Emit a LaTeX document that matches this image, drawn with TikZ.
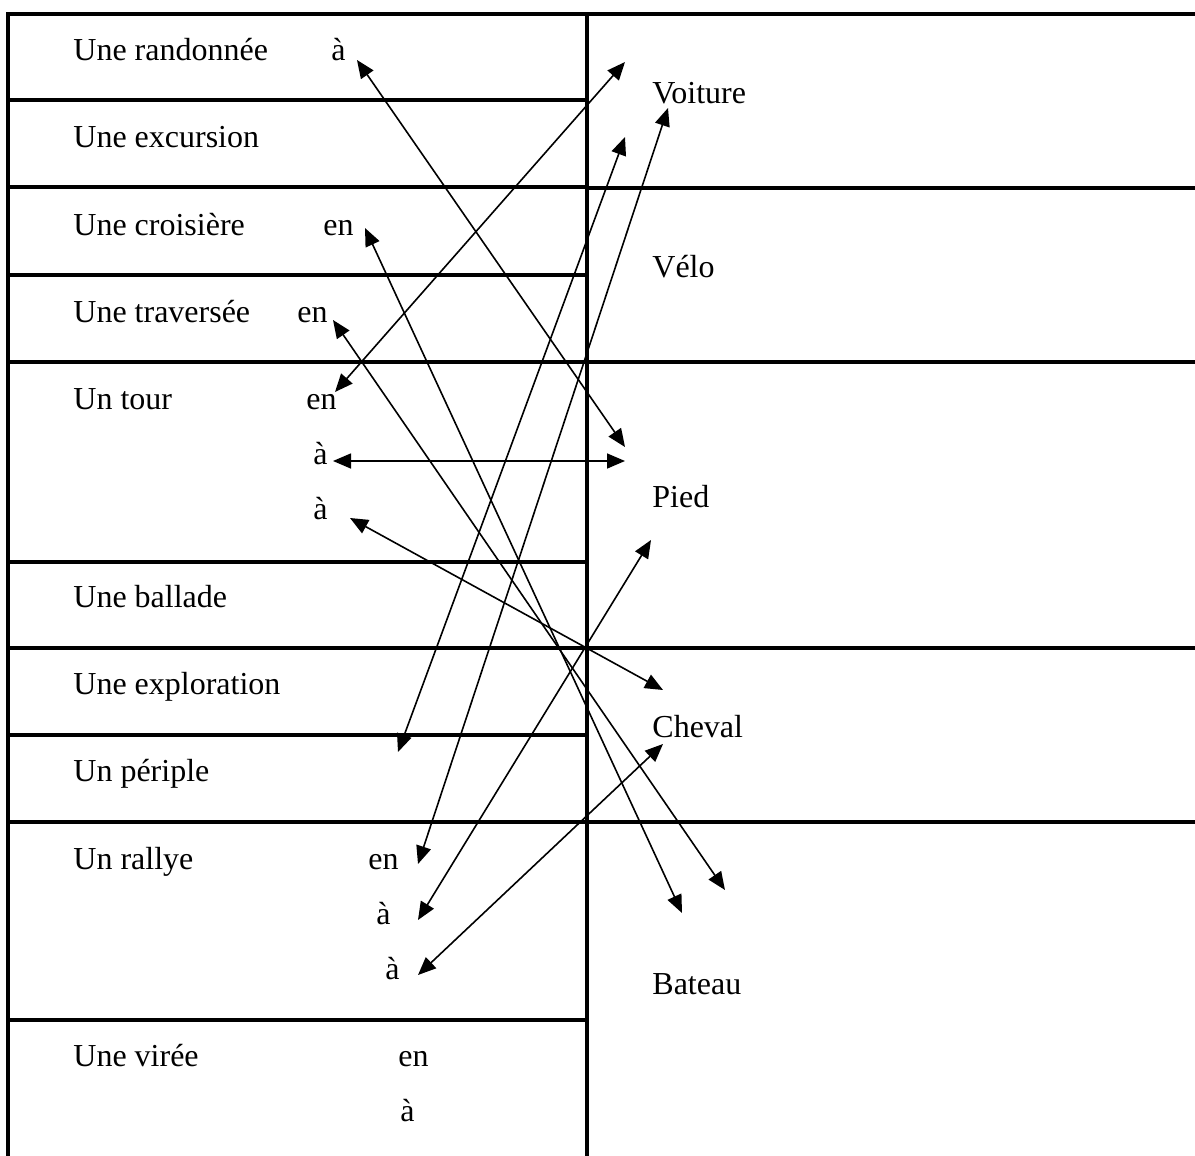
\documentclass[tikz,border=0pt]{standalone}
\usepackage{fontspec}
\setmainfont{Liberation Serif}
\usetikzlibrary{arrows.meta}

\begin{document}
\begin{tikzpicture}[x = 0.5pt, y = -0.5pt,
		every node/.style = {inner sep = 0, anchor = base west, font = \fontsize{16}{19}\selectfont},
		link/.style = {{Triangle[length = 9pt, width = 7.5pt]}-{Triangle[length = 9pt, width = 7.5pt]}, line width = 0.8pt}]
		\def\midLine{587}
		\useasboundingbox (0,0) rectangle (1195,1156);

		% table lines
		\begin{scope}[line width = 1.9pt]
			\draw (8,1156) -- (8,14) -- (1195,14);
			\draw (\midLine,14) -- (\midLine,1156);
			\foreach \y in {100, 187, 275, 362, 562, 648, 735, 822, 1020}
				\draw (8,\y) -- (\midLine,\y);
			\foreach \y in {188, 362, 648, 822}
				\draw (\midLine,\y) -- (1195,\y);
		\end{scope}

		% left column
		\node (randonnee) at (73,61) {Une randonnée};
		\node (excursion) at (73,148) {Une excursion};
		\node (croisiere) at (73,235) {Une croisière};
		\node (traversee) at (73,322) {Une traversée};
		\node (tour) at (73,409) {Un tour};
		\node (ballade) at (73,607) {Une ballade};
		\node (exploration) at (73,694) {Une exploration};
		\node (periple) at (73,781) {Un périple};
		\node (rallye) at (73,869) {Un rallye};
		\node (viree) at (73,1066) {Une virée};

		\node (aRandonnee) at (331,61) {à};
		\node (enCroisiere) at (323,235) {en};
		\node (enTraversee) at (297,322) {en};
		\node (enTour) at (306,409) {en};
		\node (aTourA) at (313,464) {à};
		\node (aTourB) at (313,519) {à};
		\node (enRallye) at (368,869) {en};
		\node (aRallyeA) at (376,924) {à};
		\node (aRallyeB) at (385,979) {à};
		\node (enViree) at (398,1066) {en};
		\node (aViree) at (400,1121) {à};

		% right column
		\node (voiture) at (652,104) {Voiture};
		\node (velo) at (652,278) {Vélo};
		\node (pied) at (652,507) {Pied};
		\node (cheval) at (652,737) {Cheval};
		\node (bateau) at (652,994) {Bateau};

		% arrow ends
		\coordinate (tRandonnee) at (357,60);
		\coordinate (tCroisiere) at (365,228);
		\coordinate (tTraversee) at (333,320);
		\coordinate (tTour) at (335,392);
		\coordinate (tTourA) at (333,461);
		\coordinate (tTourB) at (350,518);
		\coordinate (tPeriple) at (398,752);
		\coordinate (tRallye) at (418,864);
		\coordinate (tRallyeA) at (418,920);
		\coordinate (tRallyeB) at (418,975);

		\coordinate (voitureA) at (625,62);
		\coordinate (voitureB) at (625,137);
		\coordinate (voitureC) at (668,108);
		\coordinate (piedA) at (625,447);
		\coordinate (piedB) at (625,461);
		\coordinate (piedC) at (651,540);
		\coordinate (chevalA) at (663,690);
		\coordinate (chevalB) at (663,744);
		\coordinate (bateauA) at (682,913);
		\coordinate (bateauB) at (725,890);

		\begin{scope}[link]
			\draw (tRandonnee) -- (piedA);
			\draw (tTour) -- (voitureA);
			\draw (tCroisiere) -- (bateauA);
			\draw (tTraversee) -- (bateauB);
			\draw (tTourA) -- (piedB);
			\draw (tTourB) -- (chevalA);
			\draw (tPeriple) -- (voitureB);
			\draw (tRallye) -- (voitureC);
			\draw (tRallyeA) -- (piedC);
			\draw (tRallyeB) -- (chevalB);
		\end{scope}
	\end{tikzpicture}
\end{document}
